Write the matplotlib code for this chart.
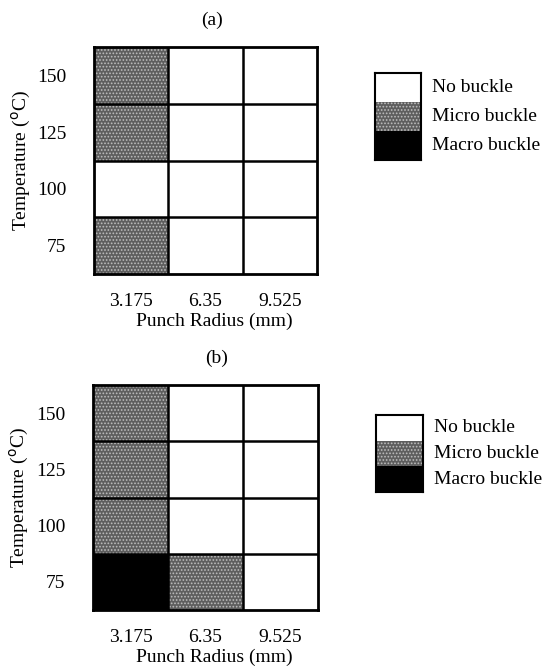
import numpy as np
import matplotlib.pyplot as plt

plt.rcParams['font.family'] = ['Liberation Serif', 'DejaVu Serif']
plt.rcParams['hatch.linewidth'] = 0.8

radii = ["3.175", "6.35", "9.525"]
temps = [75, 100, 125, 150]
states = ["No buckle", "Micro buckle", "Macro buckle"]

# buckle state per radius, listed from 75 up to 150 C  (0 none, 1 micro, 2 macro)
panel_a = [[1, 0, 1, 1],
           [0, 0, 0, 0],
           [0, 0, 0, 0]]
panel_b = [[2, 1, 1, 1],
           [1, 0, 0, 0],
           [0, 0, 0, 0]]

face = ["white", "#5e5e5e", "black"]
hatch = [None, ".....", None]
hcol = ["white", "#bdbdbd", "black"]

W, H = 552, 668
fig = plt.figure(figsize=(W / 100, H / 100), dpi=100)


def box(l, t, r, b):
    return [l / W, 1 - b / H, (r - l) / W, (b - t) / H]


def grid_panel(rect, data, title, tx):
    ax = fig.add_axes(rect)
    for i, col in enumerate(data):
        for j, s in enumerate(col):
            ax.bar(i, 1, bottom=j, width=1, align='center', color=face[s],
                   hatch=hatch[s], edgecolor=hcol[s], linewidth=0)
    for x in np.arange(0.5, len(radii) - 0.5):
        ax.axvline(x, color='black', lw=1.8)
    for y in np.arange(1, len(temps)):
        ax.axhline(y, color='black', lw=1.8)
    ax.set_xlim(-0.5, len(radii) - 0.5)
    ax.set_ylim(0, len(temps))
    ax.set_xticks(range(len(radii)))
    ax.set_xticklabels(radii)
    ax.set_yticks(np.arange(len(temps)) + 0.5)
    ax.set_yticklabels([str(t) for t in temps])
    ax.tick_params(length=0, labelsize=14)
    ax.tick_params(axis='x', pad=14)
    ax.tick_params(axis='y', pad=20)
    for sp in ax.spines.values():
        sp.set_linewidth(2)
    ax.set_xlabel("Punch Radius (mm)", fontsize=14)
    ax.xaxis.set_label_coords(0.54, -0.17)
    ax.set_ylabel(r"Temperature ($^\mathrm{o}$C)", fontsize=14)
    ax.yaxis.set_label_coords(-0.275, 0.5)
    ax.set_title(title, fontsize=14, x=tx, pad=16)
    return ax


def legend_panel(rect):
    lg = fig.add_axes(rect)
    for k in range(len(states)):
        s = len(states) - 1 - k
        lg.bar(0, 1, bottom=k, width=1, color=face[s], hatch=hatch[s],
               edgecolor=hcol[s], linewidth=0)
        lg.text(0.74, k + 0.5, states[s], fontsize=14, va='center', ha='left')
    lg.set_xlim(-0.5, 0.5)
    lg.set_ylim(0, len(states))
    lg.set_xticks([])
    lg.set_yticks([])
    for sp in lg.spines.values():
        sp.set_linewidth(1.5)
    return lg


grid_panel(box(94, 47, 317, 274), panel_a, "(a)", 0.53)
legend_panel(box(375, 73, 421, 160))
grid_panel(box(93, 385, 318, 610), panel_b, "(b)", 0.55)
legend_panel(box(376, 415, 423, 492))

fig.savefig("out.png", dpi=100)
